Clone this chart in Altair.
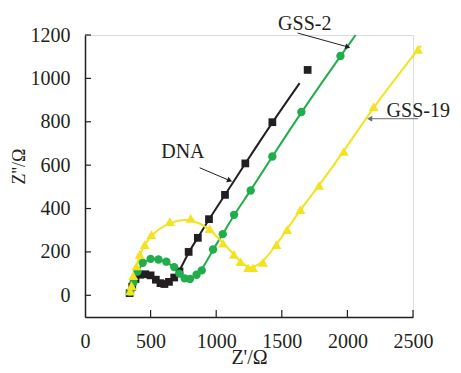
import altair as alt
import pandas as pd

# ---- data ----
dna_x = [340, 360, 385, 420, 460, 500, 540, 575, 605, 640, 680, 720, 790, 860, 945, 1067, 1222, 1428, 1697]
dna_y = [10, 40, 75, 95, 97, 92, 72, 56, 52, 62, 82, 110, 200, 265, 351, 463, 608, 798, 1039]
dna_fit_x = [340, 360, 385, 420, 460, 500, 540, 575, 605, 640, 680, 720, 790, 860, 945, 1067, 1222, 1428, 1636]
dna_fit_y = [10, 40, 75, 95, 97, 92, 72, 56, 52, 62, 82, 110, 200, 265, 351, 463, 608, 798, 978]

gss2_x = [345, 370, 400, 440, 500, 560, 620, 680, 720, 760, 800, 850, 890, 976, 1050, 1136, 1263, 1428, 1649, 1947]
gss2_y = [15, 60, 110, 150, 168, 165, 155, 130, 100, 78, 75, 95, 115, 211, 282, 371, 483, 640, 845, 1103]
gss2_fit_x = [345, 370, 400, 440, 500, 560, 620, 680, 720, 760, 800, 850, 890, 976, 1050, 1136, 1263, 1428, 1649, 1947, 2063]
gss2_fit_y = [15, 60, 110, 150, 168, 165, 155, 130, 100, 78, 75, 95, 115, 211, 282, 371, 483, 640, 845, 1103, 1200]

gss19_x = [345, 355, 368, 392, 417, 455, 506, 646, 806, 950, 1053, 1135, 1185, 1243, 1281, 1357, 1459, 1540, 1642, 1784, 1972, 2200, 2538]
gss19_y = [20, 45, 90, 135, 189, 234, 280, 340, 355, 307, 240, 189, 155, 127, 127, 152, 234, 303, 395, 506, 663, 870, 1134]
gss19_fit_x = gss19_x[:-1] + [2560]
gss19_fit_y = gss19_y[:-1] + [1150]

series_names = ["DNA", "GSS-2", "GSS-19"]
series_colors = ["#231f20", "#1fae4b", "#f3e31f"]
series_shapes = ["square", "circle", "triangle-up"]
series_sizes = [60, 70, 100]

x_ticks = [0, 500, 1000, 1500, 2000, 2500]
y_ticks = [0, 200, 400, 600, 800, 1000, 1200]

# annotation labels and arrows
ann_text = ["DNA", "GSS-2", "GSS-19"]
ann_tx = [746, 1675, 2540]
ann_ty = [660, 1251, 851]
arr_x0 = [874, 1621, 2540]
arr_y0 = [588, 1209, 814]
arr_x1 = [1103, 2003, 2170]
arr_y1 = [529, 1145, 814]
arr_angle = [23, 16, 180]
arr_color = ["#231f20", "#231f20", "#6d6d6d"]

FONT = "Liberation Serif"
INK = "#231f20"

# ---- build tables ----
pts = []
for k, (name, xs, ys) in enumerate([("DNA", dna_x, dna_y), ("GSS-2", gss2_x, gss2_y), ("GSS-19", gss19_x, gss19_y)]):
    for i, (a, b) in enumerate(zip(xs, ys)):
        pts.append({"series": name, "x": a, "y": b, "i": i, "sz": series_sizes[k]})
pts = pd.DataFrame(pts)

fits = []
for name, xs, ys in [("DNA", dna_fit_x, dna_fit_y), ("GSS-2", gss2_fit_x, gss2_fit_y), ("GSS-19", gss19_fit_x, gss19_fit_y)]:
    for i, (a, b) in enumerate(zip(xs, ys)):
        fits.append({"series": name, "x": a, "y": b, "i": i})
fits = pd.DataFrame(fits)

ann = pd.DataFrame({"t": ann_text, "tx": ann_tx, "ty": ann_ty,
                    "x0": arr_x0, "y0": arr_y0, "x1": arr_x1, "y1": arr_y1,
                    "ang": arr_angle, "c": arr_color})

xscale = alt.Scale(domain=[0, 2500], nice=False, zero=False)
yscale = alt.Scale(domain=[-100, 1200], nice=False, zero=False)
color = alt.Color("series:N", scale=alt.Scale(domain=series_names, range=series_colors), legend=None)

xaxis = alt.Axis(values=x_ticks, format="d", labelOverlap=False, labelFlush=False, labelPadding=14,
                 title="Z'/Ω", titleX=164, titleY=40, titleBaseline="middle", titleAlign="center")
yaxis = alt.Axis(values=y_ticks, format="d", labelOverlap=False, labelFlush=False, labelPadding=15,
                 title="Z''/Ω", titleX=-61, titleY=131, titleBaseline="alphabetic", titleAlign="center",
                 titleAngle=270, titleFontSize=18)

lines = alt.Chart(fits).mark_line(strokeWidth=2, interpolate="basis").encode(
    x=alt.X("x:Q", scale=xscale, axis=xaxis),
    y=alt.Y("y:Q", scale=yscale, axis=yaxis),
    color=color, detail="series:N", order="i:Q")

marks = alt.Chart(pts).mark_point(filled=True, opacity=1).encode(
    x=alt.X("x:Q", scale=xscale),
    y=alt.Y("y:Q", scale=yscale),
    color=color,
    size=alt.Size("sz:Q", scale=None),
    shape=alt.Shape("series:N", scale=alt.Scale(domain=series_names, range=series_shapes), legend=None))

arrows = alt.Chart(ann).mark_rule(strokeWidth=1).encode(
    x=alt.X("x0:Q", scale=xscale), y=alt.Y("y0:Q", scale=yscale),
    x2="x1:Q", y2="y1:Q", color=alt.Color("c:N", scale=None))

heads = alt.Chart(ann).mark_point(shape="triangle-right", filled=True, opacity=1, size=35).encode(
    x=alt.X("x1:Q", scale=xscale), y=alt.Y("y1:Q", scale=yscale),
    angle=alt.Angle("ang:Q", scale=None), color=alt.Color("c:N", scale=None))

labels = alt.Chart(ann).mark_text(font=FONT, fontSize=20, color=INK, align="center", baseline="middle").encode(
    x=alt.X("tx:Q", scale=xscale), y=alt.Y("ty:Q", scale=yscale), text="t:N")

xt = pd.DataFrame({"t": x_ticks[1:]})
yt = pd.DataFrame({"t": y_ticks})
xtick_rules = alt.Chart(xt).mark_rule(color=INK, strokeWidth=1.2).encode(
    x=alt.X("t:Q", scale=xscale), y=alt.value(282), y2=alt.value(275))
ytick_rules = alt.Chart(yt).mark_rule(color=INK, strokeWidth=1.2).encode(
    y=alt.Y("t:Q", scale=yscale), x=alt.value(0), x2=alt.value(6))

chart = alt.layer(lines, marks, arrows, heads, labels, xtick_rules, ytick_rules).properties(
    width=328, height=282,
    autosize=alt.AutoSizeParams(type="none"),
    padding={"left": 77, "top": 27, "right": 40, "bottom": 50},
).configure_view(stroke=None).configure(background="white").configure_axis(
    ticks=False, grid=False, domainColor=INK, domainWidth=1.5,
    labelFont=FONT, labelFontSize=20, labelColor=INK,
    titleFont=FONT, titleFontSize=20, titleFontWeight="normal", titleColor=INK,
)

chart.save("out.html", embed_options={"renderer": "svg", "actions": False})
